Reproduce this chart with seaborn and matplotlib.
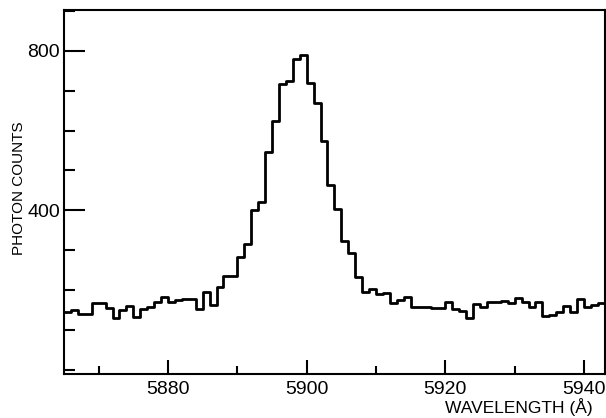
import numpy as np
import pandas as pd
import seaborn as sns
import matplotlib.pyplot as plt
from matplotlib.ticker import MultipleLocator

# 1 A wide bins, left edges from 5865 to 5942
bin_edges = list(range(5865, 5944))
photon_counts = [
    146, 150, 140, 140, 168, 168, 156, 131, 150, 161,   # 5865-5874
    134, 153, 159, 171, 183, 171, 176, 177, 178, 152,   # 5875-5884
    195, 163, 209, 236, 236, 282, 315, 401, 422, 547,   # 5885-5894
    624, 717, 723, 779, 789, 718, 670, 575, 464, 403,   # 5895-5904
    322, 292, 234, 196, 202, 190, 194, 167, 175, 184,   # 5905-5914
    157, 157, 159, 155, 155, 170, 152, 148, 130, 165,   # 5915-5924
    159, 171, 171, 174, 169, 181, 170, 157, 170, 135,   # 5925-5934
    138, 146, 161, 146, 177, 159, 163, 167,             # 5935-5942
]
x_major = [5880, 5900, 5920, 5940]
y_major = [400, 800]

df = pd.DataFrame({
    'wavelength': np.array(bin_edges[:-1]) + 0.5,
    'counts': photon_counts,
})

sns.set_style('ticks')
plt.rcParams['font.family'] = ['Liberation Sans', 'DejaVu Sans']

fig = plt.figure(figsize=(6.06, 4.18), dpi=100)
ax = fig.add_axes([0.1056, 0.1053, 0.8924, 0.8707])

sns.histplot(data=df, x='wavelength', weights='counts', bins=bin_edges,
             element='step', fill=False, color='black', linewidth=2.0, ax=ax)

ax.set_xlim(5865, 5943)
ax.set_ylim(-10, 902)

ax.set_xticks(x_major)
ax.set_yticks(y_major)
ax.xaxis.set_minor_locator(MultipleLocator(10))
ax.yaxis.set_minor_locator(MultipleLocator(100))
ax.tick_params(which='both', direction='in', width=1.5, colors='black',
               labelsize=14)
ax.tick_params(axis='x', which='major', length=10, pad=5)
ax.tick_params(axis='x', which='minor', length=6)
ax.tick_params(axis='y', which='major', length=15, pad=3)
ax.tick_params(axis='y', which='minor', length=8)

for side in ['top', 'bottom', 'left', 'right']:
    ax.spines[side].set_visible(True)
    ax.spines[side].set_linewidth(1.5)
    ax.spines[side].set_color('black')

ax.set_ylabel('PHOTON COUNTS', fontsize=11, color='black')
ax.yaxis.set_label_coords(-0.071, 0.51)
ax.set_xlabel('WAVELENGTH (Å)', fontsize=12.5, color='black',
              ha='right', va='baseline')
ax.xaxis.set_label_coords(0.978, -0.106)

fig.savefig('out.png', dpi=100)
